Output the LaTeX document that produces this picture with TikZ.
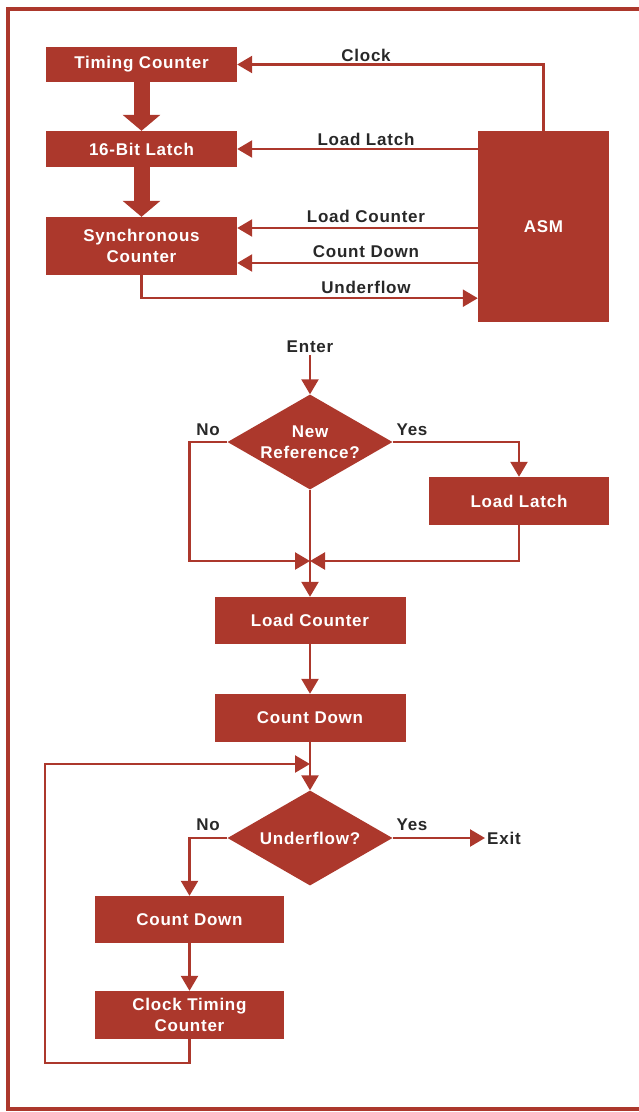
\documentclass[tikz,border=0pt]{standalone}
\usepackage{fontspec}
\setmainfont{Liberation Sans}[LetterSpace=4.5]
\usetikzlibrary{arrows.meta,shapes.geometric,positioning}
\definecolor{hpred}{RGB}{172,56,44}
\definecolor{hpgray}{RGB}{40,40,40}

\begin{document}
\begin{tikzpicture}[x=1pt,y=-1pt,
		blk/.style={fill=hpred, text=white, align=center, inner sep=0,
			font=\fontsize{17}{21}\selectfont\bfseries},
		dec/.style={diamond, fill=hpred, inner sep=0,
			minimum width=165pt, minimum height=95pt},
		dectxt/.style={text=white, align=center,
			font=\fontsize{17}{21}\selectfont\bfseries},
		lbl/.style={text=hpgray, inner sep=2pt,
			font=\fontsize{17}{21}\selectfont\bfseries},
		wire/.style={draw=hpred, line width=2.4pt},
		tipa/.tip={Triangle[length=15pt,width=17pt]},
		bus/.style={draw=hpred, line width=16pt,
			-{Triangle[length=16pt,width=37pt]}}]
			\useasboundingbox (0,0) rectangle (639,1112);

			% Frame
			\draw[hpred, line width=4pt] (639,8.5) -- (8,8.5) -- (8,1109) -- (639,1109);

			% Block diagram
			\node[blk, minimum width=191pt, minimum height=35pt] (tc) at (141.5,64.5) {Timing Counter};
			\node[blk, minimum width=191pt, minimum height=36pt] (latch) at (141.5,149) {16-Bit Latch};
			\node[blk, minimum width=191pt, minimum height=58pt] (sync) at (141.5,246) {Synchronous\\Counter};
			\node[blk, minimum width=131pt, minimum height=191pt] (asm) at (543.5,226.5) {ASM};

			\draw[bus] (tc.south) -- (latch.north);
			\draw[bus] (latch.south) -- (sync.north);

			\coordinate (lcin) at ([yshift=18pt]sync.east);
			\coordinate (cdin) at ([yshift=-17pt]sync.east);
			\coordinate (uf) at ([yshift=-23pt]sync.south);

			\draw[wire,-tipa] (asm.north) |- (tc.east);
			\draw[wire,-tipa] (asm.west |- latch.east) -- (latch.east);
			\draw[wire,-tipa] (asm.west |- lcin) -- (lcin);
			\draw[wire,-tipa] (asm.west |- cdin) -- (cdin);
			\draw[wire,-tipa] (sync.south) -- (uf) -- (uf -| asm.west);

			\node[lbl] (clk) at (366,55) {Clock};
			\node[lbl] (ldl) at (366,139) {Load Latch};
			\node[lbl] (ldc) at (366,216) {Load Counter};
			\node[lbl] (cnt) at (366,252) {Count Down};
			\node[lbl] (und) at (366,287) {Underflow};

			% Flow chart
			\node[lbl] (enter) at (310,347) {Enter};
			\node[dec, label={[dectxt]center:New\\Reference?}] (d1) at (310,442) {};
			\node[lbl] (no1) at (208,430) {No};
			\node[lbl] (yes1) at (412,430) {Yes};
			\node[blk, minimum width=180pt, minimum height=48pt] (ll) at (519,501) {Load Latch};
			\node[blk, minimum width=191pt, minimum height=47pt] (lc) at (310,620.5) {Load Counter};
			\node[blk, minimum width=191pt, minimum height=48pt] (cd) at (310,718) {Count Down};
			\node[dec, label={[dectxt]center:Underflow?}] (d2) at (310,838) {};
			\node[lbl] (no2) at (208,825) {No};
			\node[lbl] (yes2) at (412,825) {Yes};
			\node[lbl, anchor=west] (exit) at (485,838) {Exit};
			\node[blk, minimum width=189pt, minimum height=47pt] (cd2) at (189.5,919.5) {Count Down};
			\node[blk, minimum width=189pt, minimum height=48pt] (ctc) at (189.5,1015) {Clock Timing\\Counter};

			\coordinate (m1) at (310,561);
			\coordinate (m2) at (310,764);

			\draw[wire,-tipa] (enter.south) -- (d1.north);
			\draw[wire,-tipa] (d1.west) -- ++(-38,0) |- (m1);
			\draw[wire,-tipa] (d1.east) -| (ll.north);
			\draw[wire,-tipa] (ll.south) |- (m1);
			\draw[wire,-tipa] (d1.south) -- (lc.north);
			\draw[wire,-tipa] (lc) -- (cd);
			\draw[wire,-tipa] (cd.south) -- (d2.north);
			\draw[wire,-tipa] (d2.west) -| (cd2.north);
			\draw[wire,-tipa] (d2.east) -- (d2.east -| exit.west);
			\draw[wire,-tipa] (cd2) -- (ctc);
			\draw[wire,-tipa] (ctc.south) -- ++(0,24) -- ++(-144.5,0) |- (m2);
		\end{tikzpicture}
\end{document}
